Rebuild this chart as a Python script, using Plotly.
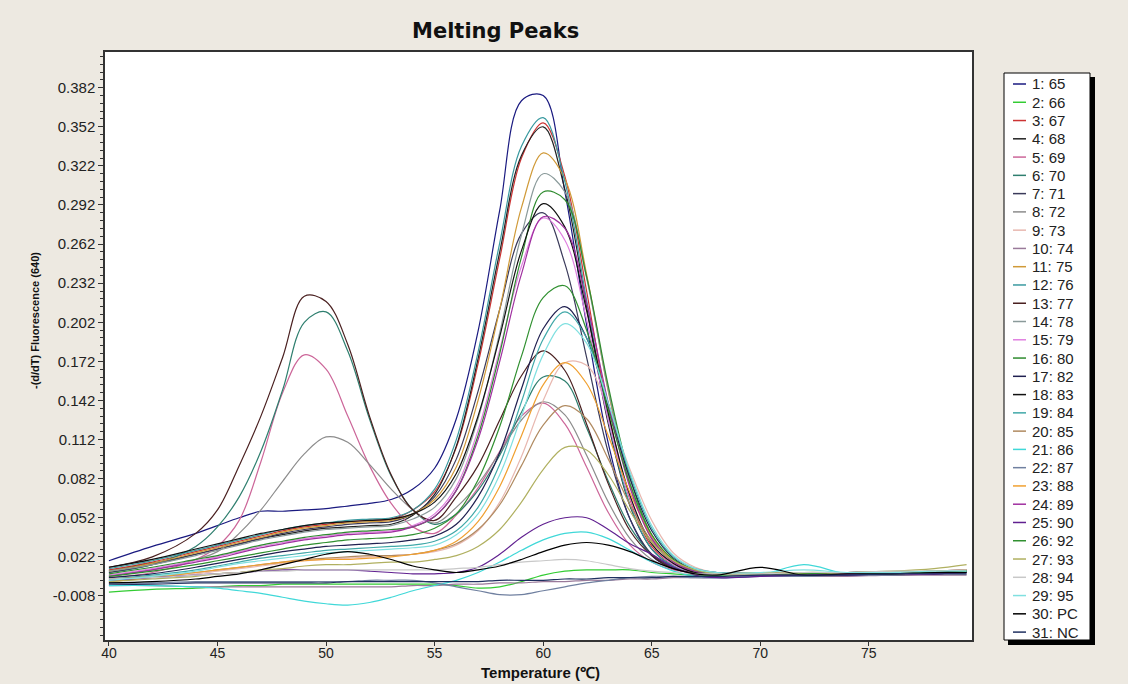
import plotly.graph_objects as go

# ---------------- data ----------------
temps = [40, 42, 44, 45, 46, 47, 48, 49, 50, 51, 52, 53, 54, 55, 56, 57, 58, 59, 60,
         61, 62, 63, 64, 65, 66, 67, 68, 70, 72, 74, 76, 78, 79.5]

sample_names = ["1: 65", "2: 66", "3: 67", "4: 68", "5: 69", "6: 70", "7: 71", "8: 72",
                "9: 73", "10: 74", "11: 75", "12: 76", "13: 77", "14: 78", "15: 79",
                "16: 80", "17: 82", "18: 83", "19: 84", "20: 85", "21: 86", "22: 87",
                "23: 88", "24: 89", "25: 90", "26: 92", "27: 93", "28: 94", "29: 95",
                "30: PC", "31: NC"]

sample_colors = ["#1a1a80", "#33cc33", "#cc3333", "#222222", "#cc6699", "#2f7f6f", "#3a3a5a",
                 "#8c8c8c", "#e8b8b0", "#9a7a9a", "#d09a38", "#3a9aa0", "#4a2020", "#8a9a9a",
                 "#e080e0", "#2e8b2e", "#202050", "#111111", "#40a8a8", "#b08a60", "#40d8d8",
                 "#7080a0", "#f0a030", "#a030a0", "#602090", "#309030", "#b0b060", "#c8c8c8",
                 "#80e0e0", "#000000", "#203060"]

y_65 = [0.019, 0.030, 0.040, 0.046, 0.052, 0.057, 0.057, 0.058, 0.059, 0.061, 0.063, 0.066,
        0.074, 0.090, 0.128, 0.195, 0.288, 0.372, 0.376, 0.302, 0.200, 0.109, 0.051, 0.023, 0.013, 0.010, 0.009,
        0.009, 0.009, 0.010, 0.010, 0.011, 0.012]
y_66 = [-0.005, -0.003, -0.002, -0.001, 0.000, 0.000, 0.001, 0.001, 0.001, 0.001, 0.001, 0.001,
        0.001, 0.001, 0.000, -0.002, -0.001, 0.003, 0.008, 0.011, 0.012, 0.012, 0.012, 0.010, 0.009, 0.008, 0.008,
        0.008, 0.009, 0.009, 0.010, 0.010, 0.011]
y_67 = [0.012, 0.018, 0.026, 0.030, 0.034, 0.038, 0.042, 0.045, 0.047, 0.049, 0.050, 0.051,
        0.058, 0.072, 0.106, 0.170, 0.251, 0.328, 0.355, 0.314, 0.226, 0.133, 0.066, 0.030, 0.016, 0.010, 0.009,
        0.008, 0.009, 0.008, 0.009, 0.010, 0.010]
y_68 = [0.011, 0.017, 0.024, 0.028, 0.032, 0.036, 0.039, 0.042, 0.044, 0.045, 0.046, 0.047,
        0.054, 0.070, 0.107, 0.174, 0.256, 0.330, 0.352, 0.304, 0.214, 0.124, 0.061, 0.028, 0.015, 0.010, 0.009,
        0.009, 0.008, 0.009, 0.009, 0.010, 0.011]
y_69 = [0.006, 0.010, 0.020, 0.030, 0.050, 0.095, 0.148, 0.177, 0.166, 0.130, 0.092, 0.063,
        0.045, 0.040, 0.054, 0.075, 0.103, 0.130, 0.140, 0.124, 0.091, 0.056, 0.031, 0.018, 0.012, 0.010, 0.009,
        0.008, 0.008, 0.009, 0.008, 0.009, 0.010]
y_70 = [0.010, 0.016, 0.030, 0.045, 0.068, 0.103, 0.150, 0.202, 0.210, 0.180, 0.128, 0.084,
        0.058, 0.047, 0.055, 0.073, 0.100, 0.133, 0.160, 0.157, 0.121, 0.080, 0.045, 0.024, 0.014, 0.010, 0.009,
        0.009, 0.009, 0.008, 0.009, 0.010, 0.010]
y_71 = [0.010, 0.016, 0.024, 0.028, 0.032, 0.036, 0.040, 0.043, 0.045, 0.047, 0.048, 0.049,
        0.055, 0.068, 0.097, 0.149, 0.212, 0.270, 0.286, 0.247, 0.175, 0.102, 0.051, 0.024, 0.014, 0.010, 0.009,
        0.009, 0.009, 0.008, 0.008, 0.009, 0.010]
y_72 = [0.008, 0.012, 0.020, 0.026, 0.040, 0.058, 0.080, 0.101, 0.114, 0.110, 0.093, 0.074,
        0.058, 0.048, 0.060, 0.078, 0.102, 0.127, 0.141, 0.131, 0.100, 0.064, 0.036, 0.020, 0.013, 0.010, 0.009,
        0.009, 0.010, 0.009, 0.009, 0.010, 0.011]
y_73 = [0.004, 0.006, 0.009, 0.011, 0.013, 0.015, 0.017, 0.019, 0.020, 0.021, 0.022, 0.023,
        0.024, 0.026, 0.031, 0.042, 0.064, 0.099, 0.142, 0.171, 0.169, 0.135, 0.089, 0.050, 0.025, 0.014, 0.010,
        0.009, 0.010, 0.009, 0.010, 0.011, 0.011]
y_74 = [0.000, 0.000, -0.001, -0.001, -0.001, -0.001, -0.001, -0.001, -0.001, -0.001, -0.001, -0.001,
        0.000, 0.000, 0.001, 0.001, 0.002, 0.002, 0.003, 0.003, 0.004, 0.004, 0.005, 0.005, 0.006, 0.006, 0.006,
        0.007, 0.007, 0.007, 0.008, 0.008, 0.008]
y_75 = [0.011, 0.017, 0.025, 0.029, 0.033, 0.037, 0.041, 0.044, 0.046, 0.048, 0.049, 0.050,
        0.055, 0.066, 0.091, 0.142, 0.212, 0.290, 0.332, 0.312, 0.239, 0.149, 0.077, 0.036, 0.018, 0.011, 0.009,
        0.009, 0.009, 0.010, 0.009, 0.010, 0.011]
y_76 = [0.013, 0.019, 0.027, 0.031, 0.035, 0.039, 0.043, 0.046, 0.048, 0.050, 0.051, 0.052,
        0.058, 0.074, 0.112, 0.179, 0.263, 0.337, 0.359, 0.310, 0.219, 0.127, 0.062, 0.028, 0.015, 0.010, 0.009,
        0.009, 0.010, 0.009, 0.009, 0.010, 0.011]
y_77 = [0.014, 0.022, 0.040, 0.058, 0.092, 0.130, 0.175, 0.222, 0.218, 0.185, 0.130, 0.085,
        0.058, 0.050, 0.068, 0.092, 0.127, 0.161, 0.180, 0.165, 0.124, 0.078, 0.042, 0.023, 0.013, 0.010, 0.009,
        0.010, 0.009, 0.009, 0.010, 0.010, 0.011]
y_78 = [0.011, 0.016, 0.023, 0.027, 0.031, 0.035, 0.038, 0.041, 0.043, 0.044, 0.045, 0.046,
        0.051, 0.060, 0.082, 0.128, 0.194, 0.269, 0.316, 0.302, 0.236, 0.150, 0.079, 0.037, 0.018, 0.011, 0.009,
        0.010, 0.009, 0.009, 0.010, 0.010, 0.011]
y_79 = [0.008, 0.013, 0.019, 0.022, 0.026, 0.030, 0.033, 0.036, 0.038, 0.040, 0.041, 0.042,
        0.046, 0.055, 0.076, 0.119, 0.181, 0.245, 0.282, 0.265, 0.204, 0.127, 0.067, 0.032, 0.016, 0.010, 0.009,
        0.008, 0.009, 0.008, 0.009, 0.009, 0.010]
y_80 = [0.009, 0.014, 0.020, 0.023, 0.027, 0.031, 0.034, 0.037, 0.039, 0.041, 0.042, 0.043,
        0.045, 0.053, 0.073, 0.115, 0.178, 0.252, 0.302, 0.296, 0.237, 0.153, 0.083, 0.039, 0.019, 0.011, 0.009,
        0.009, 0.010, 0.009, 0.010, 0.010, 0.011]
y_82 = [0.006, 0.009, 0.014, 0.017, 0.020, 0.023, 0.026, 0.028, 0.030, 0.031, 0.032, 0.033,
        0.035, 0.038, 0.047, 0.068, 0.102, 0.151, 0.197, 0.214, 0.190, 0.137, 0.082, 0.042, 0.021, 0.012, 0.010,
        0.009, 0.008, 0.009, 0.009, 0.010, 0.010]
y_83 = [0.014, 0.020, 0.028, 0.032, 0.036, 0.040, 0.043, 0.046, 0.048, 0.049, 0.050, 0.051,
        0.055, 0.064, 0.086, 0.130, 0.191, 0.257, 0.293, 0.275, 0.211, 0.132, 0.069, 0.032, 0.017, 0.010, 0.009,
        0.009, 0.009, 0.010, 0.010, 0.010, 0.011]
y_84 = [0.005, 0.008, 0.012, 0.015, 0.018, 0.021, 0.023, 0.025, 0.027, 0.028, 0.029, 0.030,
        0.031, 0.034, 0.042, 0.060, 0.093, 0.141, 0.189, 0.210, 0.190, 0.140, 0.085, 0.044, 0.022, 0.013, 0.010,
        0.009, 0.009, 0.010, 0.009, 0.010, 0.010]
y_85 = [0.005, 0.007, 0.010, 0.012, 0.014, 0.016, 0.018, 0.020, 0.021, 0.022, 0.023, 0.023,
        0.024, 0.027, 0.032, 0.043, 0.062, 0.092, 0.123, 0.138, 0.128, 0.097, 0.062, 0.034, 0.018, 0.012, 0.009,
        0.009, 0.009, 0.010, 0.010, 0.010, 0.010]
y_86 = [0.000, 0.000, -0.001, -0.002, -0.004, -0.006, -0.009, -0.012, -0.014, -0.015, -0.013, -0.009,
        -0.004, 0.000, 0.004, 0.010, 0.018, 0.027, 0.035, 0.040, 0.041, 0.036, 0.027, 0.018, 0.011, 0.007, 0.006,
        0.008, 0.016, 0.009, 0.010, 0.010, 0.011]
y_87 = [0.002, 0.002, 0.003, 0.003, 0.003, 0.003, 0.003, 0.003, 0.003, 0.003, 0.004, 0.004,
        0.004, 0.002, -0.001, -0.004, -0.007, -0.007, -0.004, -0.001, 0.002, 0.004, 0.006, 0.007, 0.007, 0.006, 0.006,
        0.007, 0.007, 0.008, 0.008, 0.009, 0.009]
y_88 = [0.003, 0.006, 0.010, 0.012, 0.014, 0.016, 0.018, 0.019, 0.020, 0.020, 0.021, 0.022,
        0.024, 0.027, 0.034, 0.049, 0.076, 0.115, 0.154, 0.171, 0.155, 0.115, 0.071, 0.038, 0.019, 0.012, 0.009,
        0.010, 0.009, 0.009, 0.010, 0.011, 0.012]
y_89 = [0.007, 0.012, 0.018, 0.021, 0.025, 0.029, 0.032, 0.035, 0.037, 0.039, 0.040, 0.041,
        0.045, 0.053, 0.073, 0.112, 0.172, 0.239, 0.283, 0.274, 0.217, 0.140, 0.075, 0.036, 0.018, 0.011, 0.009,
        0.008, 0.008, 0.009, 0.009, 0.009, 0.010]
y_90 = [0.004, 0.006, 0.008, 0.009, 0.010, 0.011, 0.012, 0.012, 0.012, 0.012, 0.011, 0.010,
        0.009, 0.009, 0.010, 0.014, 0.024, 0.037, 0.047, 0.052, 0.052, 0.043, 0.032, 0.024, 0.014, 0.008, 0.006,
        0.007, 0.008, 0.008, 0.009, 0.009, 0.010]
y_92 = [0.007, 0.011, 0.016, 0.019, 0.022, 0.025, 0.028, 0.031, 0.033, 0.035, 0.036, 0.037,
        0.039, 0.044, 0.055, 0.081, 0.122, 0.176, 0.221, 0.230, 0.196, 0.135, 0.078, 0.039, 0.020, 0.012, 0.009,
        0.009, 0.009, 0.010, 0.009, 0.010, 0.011]
y_93 = [0.003, 0.005, 0.007, 0.009, 0.010, 0.012, 0.013, 0.015, 0.016, 0.016, 0.017, 0.018,
        0.018, 0.020, 0.023, 0.030, 0.043, 0.064, 0.089, 0.106, 0.104, 0.085, 0.057, 0.033, 0.019, 0.012, 0.009,
        0.009, 0.010, 0.010, 0.011, 0.013, 0.016]
y_94 = [0.005, 0.006, 0.008, 0.009, 0.010, 0.011, 0.011, 0.012, 0.012, 0.012, 0.012, 0.012,
        0.012, 0.012, 0.013, 0.014, 0.016, 0.018, 0.019, 0.020, 0.019, 0.016, 0.013, 0.011, 0.010, 0.009, 0.009,
        0.009, 0.010, 0.010, 0.011, 0.011, 0.012]
y_95 = [0.004, 0.007, 0.011, 0.014, 0.017, 0.019, 0.021, 0.023, 0.025, 0.026, 0.027, 0.028,
        0.029, 0.031, 0.039, 0.055, 0.085, 0.130, 0.177, 0.201, 0.186, 0.140, 0.087, 0.046, 0.023, 0.013, 0.010,
        0.010, 0.012, 0.010, 0.010, 0.011, 0.011]
y_pc = [0.002, 0.003, 0.005, 0.007, 0.009, 0.012, 0.016, 0.020, 0.024, 0.026, 0.024, 0.020,
        0.015, 0.012, 0.010, 0.012, 0.015, 0.020, 0.026, 0.031, 0.033, 0.031, 0.026, 0.019, 0.013, 0.009, 0.008,
        0.014, 0.008, 0.009, 0.009, 0.010, 0.010]
y_nc = [0.001, 0.001, 0.002, 0.002, 0.002, 0.002, 0.002, 0.002, 0.002, 0.003, 0.003, 0.003,
        0.003, 0.003, 0.003, 0.003, 0.004, 0.004, 0.004, 0.005, 0.005, 0.006, 0.006, 0.006, 0.007, 0.007, 0.007,
        0.008, 0.008, 0.008, 0.009, 0.009, 0.009]

x_tick_values = [40, 45, 50, 55, 60, 65, 70, 75]
y_tick_labels = ["-0.008", "0.022", "0.052", "0.082", "0.112", "0.142", "0.172",
                 "0.202", "0.232", "0.262", "0.292", "0.322", "0.352", "0.382"]

series_values = [y_65, y_66, y_67, y_68, y_69, y_70, y_71, y_72, y_73, y_74, y_75, y_76,
                 y_77, y_78, y_79, y_80, y_82, y_83, y_84, y_85, y_86, y_87, y_88, y_89,
                 y_90, y_92, y_93, y_94, y_95, y_pc, y_nc]

# ---------------- figure ----------------
W, H = 1128, 684
ML, MR, MT, MB = 105, 156, 52, 44
PW, PH = W - ML - MR, H - MT - MB
BG = "#EDE9E1"


def px_x(px):
    return (px - ML) / PW


def px_y(py):
    return (H - MB - py) / PH


FONT = "Liberation Sans, Arial, sans-serif"
fig = go.Figure()
for name, vals, col in zip(sample_names, series_values, sample_colors):
    assert len(vals) == len(temps), name
    fig.add_trace(go.Scatter(x=temps, y=vals, mode="lines", name=name,
                             line=dict(color=col, width=1.2, shape="spline", smoothing=1.0),
                             hoverinfo="skip", showlegend=False))

axis_common = dict(showgrid=False, zeroline=False, showline=True, linecolor="#333333",
                   linewidth=1.5, mirror=True, ticks="outside", tickcolor="#333333",
                   tickwidth=1)
fig.update_xaxes(range=[39.82, 79.75], tickmode="array", tickvals=x_tick_values, ticklen=4,
                 ticklabelstandoff=-5,
                 tickfont=dict(family=FONT, size=14, color="#222"), **axis_common)
fig.update_yaxes(range=[-0.0418, 0.4094], tickmode="array", ticklen=5,
                 tickvals=[float(t) for t in y_tick_labels], ticktext=y_tick_labels,
                 tickfont=dict(family=FONT, size=15, color="#222"),
                 minor=dict(ticks="outside", ticklen=3, tickcolor="#333333",
                            tick0=-0.008, dtick=0.006), **axis_common)

annotations = [
    dict(text="<b>Melting Peaks</b>", x=px_x(495), y=px_y(31), xref="paper", yref="paper",
         showarrow=False, xanchor="center", yanchor="middle",
         font=dict(family="DejaVu Sans, Verdana, sans-serif", size=21, color="#111")),
    dict(text="<b>Temperature (℃)</b>", x=px_x(540), y=px_y(673), xref="paper", yref="paper",
         showarrow=False, xanchor="center", yanchor="middle",
         font=dict(family=FONT, size=15, color="#111")),
    dict(text="<b>-(d/dT) Fluorescence (640)</b>", x=px_x(35), y=px_y(321), xref="paper",
         yref="paper", showarrow=False, textangle=-90, xanchor="center", yanchor="middle",
         font=dict(family=FONT, size=11, color="#111")),
]

# legend box (custom, with drop shadow like the original software)
shapes = [
    dict(type="rect", xref="paper", yref="paper", x0=px_x(1008), x1=px_x(1095),
         y0=px_y(645), y1=px_y(77), fillcolor="black", line=dict(width=0)),
    dict(type="rect", xref="paper", yref="paper", x0=px_x(1004), x1=px_x(1090),
         y0=px_y(640), y1=px_y(73), fillcolor="white", line=dict(color="black", width=1)),
]
for i, (name, col) in enumerate(zip(sample_names, sample_colors)):
    yc = 84 + i * 18.27
    shapes.append(dict(type="line", xref="paper", yref="paper", x0=px_x(1013), x1=px_x(1026),
                       y0=px_y(yc), y1=px_y(yc), line=dict(color=col, width=1.5)))
    annotations.append(dict(text=name, x=px_x(1030), y=px_y(yc), xref="paper", yref="paper",
                            showarrow=False, xanchor="left", yanchor="middle",
                            font=dict(family=FONT, size=15, color="#222")))

fig.update_layout(width=W, height=H, autosize=False,
                  margin=dict(l=ML, r=MR, t=MT, b=MB, autoexpand=False),
                  paper_bgcolor=BG, plot_bgcolor="white",
                  showlegend=False, annotations=annotations, shapes=shapes)

fig.write_html("out.html", config={"displayModeBar": False},
               post_script="document.body.style.margin='0';"
                           "document.body.style.background='" + BG + "';")
